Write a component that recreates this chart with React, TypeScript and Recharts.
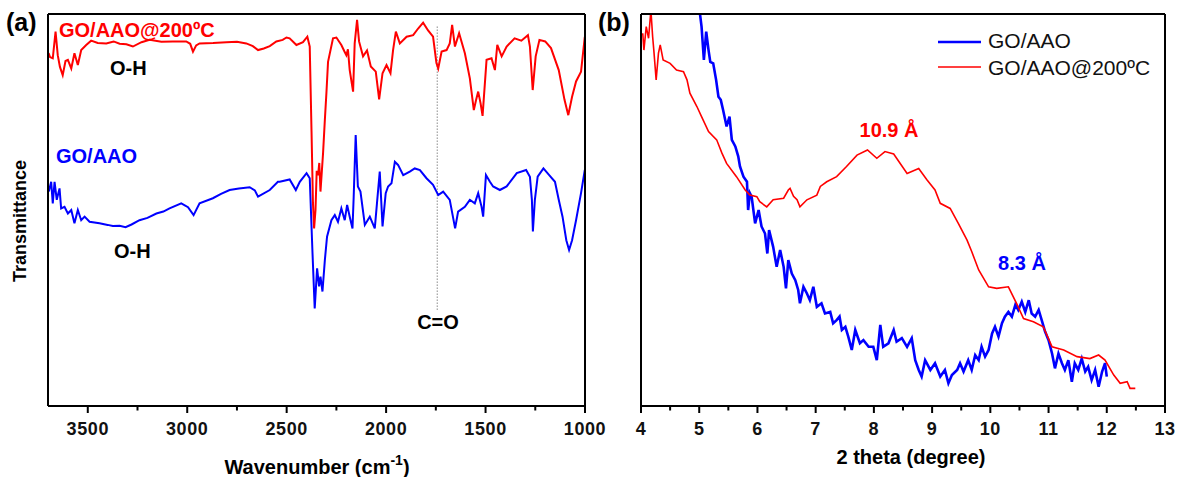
import React from 'react';
import { LineChart, Line, XAxis, YAxis, ReferenceLine } from 'recharts';

const RED = '#ff0000';
const BLUE = '#0000ff';
const FONT = '"Liberation Sans", Arial, sans-serif';

// (a) FTIR, wavenumber (cm-1) vs transmittance (a.u., 0-100 frame)
const ftirTicks = [3500, 3250, 3000, 2750, 2500, 2250, 2000, 1750, 1500, 1250, 1000];

const ftirHeated: [number, number][] = [
    [3697, 90.0], [3690, 89.0], [3676, 88.7], [3662, 95.5], [3651, 89.5], [3640, 86.5], [3626, 84.4],
    [3612, 88.0], [3600, 88.3], [3583, 86.1], [3567, 90.0], [3550, 87.0], [3533, 90.8], [3508, 92.1],
    [3483, 93.2], [3450, 92.6], [3407, 92.5], [3370, 93.0], [3340, 92.4], [3306, 92.3], [3273, 91.7],
    [3230, 92.8], [3189, 93.4], [3130, 92.9], [3072, 93.0], [3005, 93.0], [2985, 92.4], [2971, 90.4],
    [2955, 92.0], [2938, 92.5], [2870, 92.6], [2803, 92.8], [2750, 92.9], [2703, 92.5], [2670, 91.8],
    [2644, 90.8], [2615, 91.2], [2585, 91.8], [2552, 93.0], [2520, 93.4], [2501, 94.0], [2485, 93.8],
    [2451, 92.1], [2418, 92.8], [2396, 94.2], [2384, 91.7], [2375, 70.0], [2368, 52.0], [2362, 45.3],
    [2355, 50.0], [2349, 60.0], [2342, 58.9], [2336, 62.0], [2330, 54.7], [2317, 64.5], [2308, 73.0],
    [2300, 80.0], [2292, 87.8], [2267, 93.8], [2250, 94.0], [2225, 92.1], [2210, 90.5], [2200, 89.5],
    [2192, 91.0], [2183, 85.7], [2166, 80.2], [2158, 92.5], [2146, 98.5], [2136, 93.0], [2116, 89.2],
    [2096, 90.7], [2077, 86.6], [2052, 85.3], [2035, 78.2], [2018, 84.9], [1998, 87.0], [1978, 84.9],
    [1965, 90.8], [1951, 95.5], [1931, 92.5], [1897, 94.2], [1864, 94.6], [1839, 96.3], [1814, 97.8],
    [1789, 95.8], [1764, 94.2], [1747, 87.5], [1738, 86.1], [1721, 90.4], [1696, 90.8], [1680, 92.5],
    [1668, 97.2], [1654, 91.7], [1633, 95.1], [1604, 90.0], [1579, 83.6], [1559, 75.5], [1548, 78.0],
    [1537, 80.2], [1525, 77.2], [1515, 74.0], [1495, 88.3], [1470, 88.7], [1453, 85.7], [1441, 92.1],
    [1419, 89.2], [1394, 91.7], [1354, 93.8], [1320, 93.2], [1287, 94.6], [1277, 91.7], [1263, 80.6],
    [1248, 89.2], [1229, 93.4], [1200, 93.0], [1171, 91.3], [1132, 85.7], [1103, 78.1], [1084, 74.2],
    [1065, 78.9], [1045, 82.8], [1020, 85.3], [1001, 94.2],
];

const ftirPristine: [number, number][] = [
    [3696, 54.7], [3684, 57.2], [3676, 51.7], [3667, 57.2], [3656, 52.6], [3642, 55.5], [3634, 50.4],
    [3617, 50.8], [3600, 49.1], [3583, 50.0], [3567, 46.6], [3550, 50.0], [3533, 47.4], [3516, 48.3],
    [3491, 47.0], [3441, 46.6], [3400, 46.2], [3374, 45.9], [3340, 46.0], [3310, 45.6], [3280, 46.3],
    [3240, 47.4], [3200, 48.0], [3155, 49.1], [3120, 49.6], [3089, 50.4], [3030, 51.7], [2996, 50.7],
    [2968, 48.7], [2938, 51.7], [2871, 53.0], [2830, 54.1], [2787, 55.1], [2740, 55.5], [2686, 55.8],
    [2660, 55.0], [2644, 53.4], [2585, 55.1], [2544, 57.2], [2535, 57.2], [2485, 57.8], [2454, 55.1],
    [2434, 57.2], [2400, 59.4], [2384, 58.1], [2370, 38.9], [2359, 24.9], [2347, 35.1], [2337, 30.5],
    [2330, 33.0], [2320, 29.2], [2308, 37.2], [2297, 43.2], [2275, 47.4], [2258, 48.7], [2242, 47.0],
    [2225, 50.4], [2208, 47.4], [2196, 51.3], [2183, 48.3], [2169, 45.3], [2163, 53.4], [2153, 69.1],
    [2142, 56.0], [2129, 54.7], [2107, 46.2], [2082, 48.3], [2057, 45.3], [2046, 51.7], [2032, 59.8],
    [2018, 45.8], [2002, 54.3], [1990, 56.0], [1973, 56.8], [1956, 62.3], [1940, 61.5], [1914, 58.9],
    [1881, 59.8], [1856, 60.6], [1830, 60.2], [1797, 58.1], [1764, 56.4], [1738, 53.8], [1713, 54.7],
    [1680, 52.6], [1653, 45.3], [1638, 49.6], [1604, 50.8], [1579, 52.6], [1554, 51.7], [1537, 54.3],
    [1520, 50.8], [1512, 48.3], [1498, 58.9], [1478, 57.2], [1462, 56.0], [1428, 55.1], [1394, 56.0],
    [1343, 59.4], [1296, 60.2], [1277, 58.5], [1267, 52.6], [1262, 44.5], [1252, 52.6], [1238, 58.5],
    [1209, 60.6], [1180, 58.9], [1151, 57.2], [1132, 52.6], [1113, 48.3], [1094, 42.3], [1080, 39.8],
    [1065, 42.3], [1045, 47.4], [1020, 54.3], [1001, 60.2],
];

// (b) XRD, 2 theta (degree) vs intensity (a.u., 0-100 frame)
const xrdTicks = [4, 4.5, 5, 5.5, 6, 6.5, 7, 7.5, 8, 8.5, 9, 9.5, 10, 10.5, 11, 11.5, 12, 12.5, 13];

const xrdHeated: [number, number][] = [
    [4.03, 95.1], [4.05, 90.8], [4.09, 96.8], [4.13, 93.8], [4.17, 101], [4.2, 94.2], [4.22, 90.8],
    [4.26, 83.2], [4.3, 90.0], [4.33, 92.1], [4.38, 88.3], [4.5, 87.4], [4.61, 85.7], [4.73, 85.3],
    [4.79, 83.2], [4.84, 79.8], [4.96, 76.4], [5.04, 73.8], [5.16, 70.0], [5.3, 67.9], [5.39, 64.5],
    [5.47, 61.9], [5.64, 58.5], [5.79, 55.1], [5.87, 53.8], [5.99, 53.4], [6.04, 52.1], [6.16, 50.8],
    [6.27, 52.6], [6.45, 53.0], [6.53, 55.1], [6.56, 55.5], [6.62, 53.5], [6.68, 52.6], [6.73, 50.8],
    [6.85, 52.6], [7.02, 53.8], [7.08, 56.0], [7.19, 57.2], [7.36, 58.5], [7.53, 61.1], [7.71, 64.0],
    [7.89, 65.3], [8.05, 63.2], [8.19, 64.9], [8.34, 64.3], [8.57, 59.3], [8.77, 60.6], [8.91, 57.7],
    [9.05, 55.1], [9.14, 51.7], [9.31, 50.4], [9.45, 46.6], [9.6, 42.3], [9.68, 39.4], [9.8, 34.7],
    [9.97, 30.4], [10.11, 30.0], [10.31, 30.4], [10.45, 26.2], [10.57, 22.3], [10.74, 21.5],
    [10.91, 20.2], [11.06, 15.1], [11.26, 14.3], [11.49, 12.6], [11.71, 12.1], [11.86, 13.0],
    [11.97, 11.7], [12.12, 7.9], [12.23, 5.8], [12.35, 6.2], [12.4, 4.5], [12.49, 4.5],
];

const xrdPristine: [number, number][] = [
    [4.98, 104], [5.04, 96.8], [5.08, 88.3], [5.12, 95.5], [5.16, 90.8], [5.19, 87.8], [5.24, 87.4],
    [5.29, 83.2], [5.33, 78.9], [5.37, 78.1], [5.41, 75.5], [5.47, 71.3], [5.52, 73.8], [5.56, 67.9],
    [5.62, 66.2], [5.67, 63.7], [5.7, 61.1], [5.76, 58.5], [5.82, 57.2], [5.84, 50.0], [5.87, 54.3],
    [5.9, 53.4], [5.96, 46.6], [6.02, 50.0], [6.07, 45.8], [6.13, 44.0], [6.17, 38.9], [6.2, 44.9],
    [6.27, 40.6], [6.33, 35.5], [6.39, 39.8], [6.45, 35.5], [6.49, 30.0], [6.53, 37.2], [6.59, 33.8],
    [6.65, 32.1], [6.7, 29.6], [6.73, 26.2], [6.79, 30.4], [6.85, 28.7], [6.9, 27.0], [6.96, 30.4],
    [7.02, 25.3], [7.1, 26.2], [7.16, 23.6], [7.25, 24.0], [7.3, 21.1], [7.36, 21.9], [7.41, 22.8],
    [7.45, 19.4], [7.51, 20.2], [7.56, 17.7], [7.62, 14.3], [7.68, 19.4], [7.76, 16.0], [7.82, 16.8],
    [7.91, 15.1], [7.99, 15.1], [8.05, 11.7], [8.11, 20.7], [8.16, 15.1], [8.25, 16.0], [8.34, 19.4],
    [8.39, 16.4], [8.48, 17.3], [8.57, 15.1], [8.65, 17.3], [8.71, 11.7], [8.77, 9.2], [8.82, 7.5],
    [8.88, 11.7], [8.97, 9.2], [9.05, 10.9], [9.14, 7.5], [9.22, 9.2], [9.28, 5.8], [9.34, 7.9],
    [9.43, 9.2], [9.48, 10.9], [9.54, 8.8], [9.62, 11.7], [9.68, 9.2], [9.74, 13.0], [9.8, 11.7],
    [9.85, 15.1], [9.91, 12.6], [9.97, 14.3], [10.03, 18.5], [10.08, 20.2], [10.14, 17.7],
    [10.2, 21.1], [10.25, 22.8], [10.31, 24.0], [10.37, 22.8], [10.43, 25.8], [10.48, 24.5],
    [10.54, 26.6], [10.6, 24.0], [10.66, 27.0], [10.71, 23.6], [10.77, 22.8], [10.83, 24.5],
    [10.89, 21.5], [10.94, 19.0], [11.0, 16.8], [11.06, 13.4], [11.11, 9.6], [11.17, 13.4],
    [11.23, 10.9], [11.28, 9.2], [11.34, 11.7], [11.4, 6.2], [11.45, 10.9], [11.51, 9.2],
    [11.57, 12.1], [11.63, 8.8], [11.68, 10.0], [11.74, 6.6], [11.8, 9.2], [11.86, 4.9],
    [11.92, 8.8], [11.97, 10.9], [12.0, 7.5],
];

const toRows = (pts: [number, number][]) => pts.map(([x, y]) => ({ x, y }));

const frameStroke = { stroke: '#000', strokeWidth: 2 };

const makeTick = (isMajor: (v: number) => boolean) => (props: any) => {
    const { x, y, payload } = props;
    const major = isMajor(payload.value);
    return (
        <g>
            <line x1={x} x2={x} y1={y} y2={y + (major ? 7 : 4.5)} stroke="#000" strokeWidth={2} />
            {major && (
                <text
                    x={x}
                    y={y + 29}
                    textAnchor="middle"
                    fontFamily={FONT}
                    fontWeight="bold"
                    fontSize={18}
                    letterSpacing={0.6}
                    fill="#111"
                >
                    {String(payload.value)}
                </text>
            )}
        </g>
    );
};

const ftirTick = makeTick((v) => v % 500 === 0);
const xrdTick = makeTick((v) => Number.isInteger(v));

// plot area: x 48..585 (a) / 641..1165 (b), y 14..406
const ftirMargin = { top: 13, right: 34, bottom: 41, left: 47 };
const xrdMargin = { top: 13, right: 14, bottom: 41, left: 47 };

const FtirPanel = () => (
    <LineChart width={620} height={477} margin={ftirMargin}>
        <XAxis
            dataKey="x"
            type="number"
            domain={[1000, 3700]}
            reversed
            ticks={ftirTicks}
            interval={0}
            height={30}
            tickSize={0}
            tickMargin={0}
            tickLine={false}
            axisLine={frameStroke}
            tick={ftirTick}
        />
        <XAxis xAxisId="top" orientation="top" dataKey="x" type="number" domain={[1000, 3700]} reversed height={1} tick={false} tickLine={false} axisLine={frameStroke} />
        <YAxis type="number" domain={[0, 100]} allowDataOverflow width={1} tick={false} tickLine={false} axisLine={frameStroke} />
        <YAxis yAxisId="right" orientation="right" type="number" domain={[0, 100]} width={1} tick={false} tickLine={false} axisLine={frameStroke} />
        <ReferenceLine
            segment={[{ x: 1743, y: 24.5 }, { x: 1743, y: 97 }]}
            stroke="#888"
            strokeWidth={1}
            strokeDasharray="1.5 1.5"
        />
        <Line data={toRows(ftirPristine)} dataKey="y" stroke={BLUE} strokeWidth={2} dot={false} isAnimationActive={false} />
        <Line data={toRows(ftirHeated)} dataKey="y" stroke={RED} strokeWidth={2} dot={false} isAnimationActive={false} />
    </LineChart>
);

const XrdPanel = () => (
    <LineChart width={1165 - 641 + 47 + 1 + 1 + 14} height={477} margin={xrdMargin}>
        <XAxis
            dataKey="x"
            type="number"
            domain={[4, 13]}
            ticks={xrdTicks}
            interval={0}
            height={30}
            tickSize={0}
            tickMargin={0}
            tickLine={false}
            axisLine={frameStroke}
            tick={xrdTick}
        />
        <XAxis xAxisId="top" orientation="top" dataKey="x" type="number" domain={[4, 13]} height={1} tick={false} tickLine={false} axisLine={frameStroke} />
        <YAxis type="number" domain={[0, 100]} allowDataOverflow width={1} tick={false} tickLine={false} axisLine={frameStroke} />
        <YAxis yAxisId="right" orientation="right" type="number" domain={[0, 100]} width={1} tick={false} tickLine={false} axisLine={frameStroke} />
        <Line data={toRows(xrdPristine)} dataKey="y" stroke={BLUE} strokeWidth={2.6} dot={false} isAnimationActive={false} />
        <Line data={toRows(xrdHeated)} dataKey="y" stroke={RED} strokeWidth={1.6} dot={false} isAnimationActive={false} />
    </LineChart>
);

const bold = { fontFamily: FONT, fontWeight: 'bold' as const };

export default function App() {
    return (
        <div style={{ position: 'absolute', left: 0, top: 0, width: 1182, height: 477, background: '#fff', overflow: 'hidden' }}>
            <div style={{ position: 'absolute', left: 0, top: 0 }}>
                <FtirPanel />
            </div>
            <div style={{ position: 'absolute', left: 641 - 48, top: 0 }}>
                <XrdPanel />
            </div>
            <svg width={1182} height={477} style={{ position: 'absolute', left: 0, top: 0, pointerEvents: 'none' }}>
                {/* panel letters */}
                <text x={6} y={31} fontSize={25} {...bold} fill="#000">(a)</text>
                <text x={598} y={31} fontSize={25} {...bold} fill="#000">(b)</text>

                {/* (a) annotations */}
                <text x={59} y={37} fontSize={20} {...bold} fill={RED}>GO/AAO@200ºC</text>
                <text x={110} y={75} fontSize={20} {...bold} fill="#000">O-H</text>
                <text x={56} y={163} fontSize={20} {...bold} fill={BLUE}>GO/AAO</text>
                <text x={114} y={258} fontSize={20} {...bold} fill="#000">O-H</text>
                <text x={438} y={329} fontSize={20} {...bold} fill="#000" textAnchor="middle">C=O</text>
                <text
                    x={20}
                    y={221}
                    fontSize={18}
                    {...bold}
                    fill="#000"
                    textAnchor="middle"
                    dominantBaseline="central"
                    transform="rotate(-90 20 221)"
                >
                    Transmittance
                </text>
                <text x={317} y={474} fontSize={20} {...bold} fill="#000" textAnchor="middle">
                    Wavenumber (cm<tspan dy={-9} fontSize={14}>-1</tspan>
                    <tspan dy={9}>)</tspan>
                </text>

                {/* (b) annotations */}
                <text x={889} y={137} fontSize={20} {...bold} fill={RED} textAnchor="middle">10.9 Å</text>
                <text x={1022} y={270} fontSize={20} {...bold} fill={BLUE} textAnchor="middle">8.3 Å</text>
                <text x={911} y={464} fontSize={20} {...bold} fill="#000" textAnchor="middle">2 theta (degree)</text>

                {/* (b) legend */}
                <line x1={938} x2={981} y1={42} y2={42} stroke={BLUE} strokeWidth={2.4} />
                <text x={988} y={48} fontSize={21} fontFamily={FONT} fill="#111">GO/AAO</text>
                <line x1={938} x2={981} y1={67} y2={67} stroke={RED} strokeWidth={1.6} />
                <text x={988} y={75} fontSize={21} fontFamily={FONT} fill="#111">GO/AAO@200ºC</text>
            </svg>
        </div>
    );
}
